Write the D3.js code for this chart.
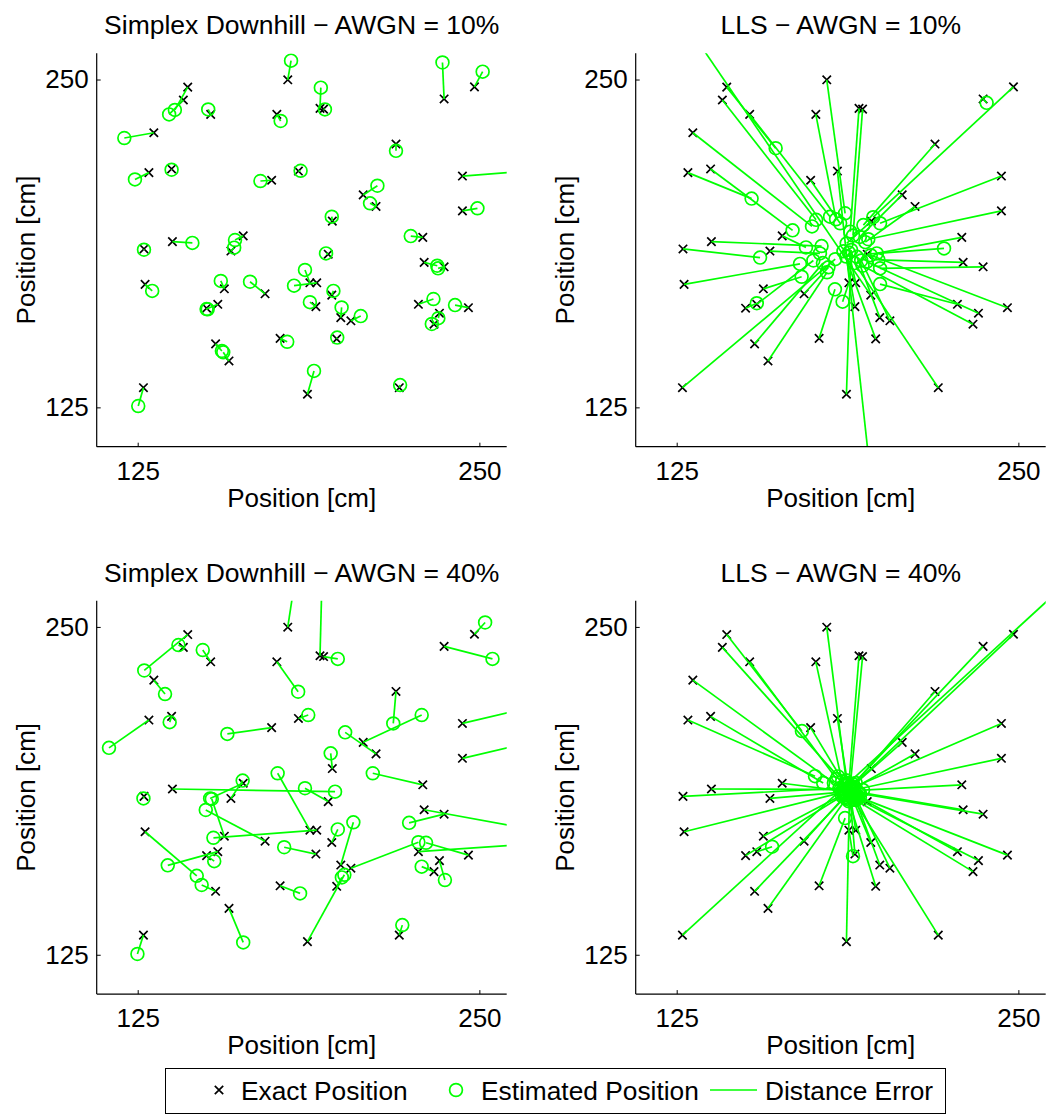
<!DOCTYPE html>
<html>
<head>
<meta charset="utf-8">
<script src="https://cdn.jsdelivr.net/npm/d3@7"></script>
<style>
  html, body { margin: 0; padding: 0; background: #fff; }
  svg text { font-family: "Liberation Sans", Arial, Helvetica, sans-serif; fill: #000; }
</style>
</head>
<body>
<svg id="chart" width="1046" height="1117"></svg>
<script>
// Exact node positions [cm] (shared by every panel)
const exactX = [179.9,143.3,141.7,151.7,175.9,130.9,129.1,137.4,174.0,183.8,
                127.3,137.7,163.6,159.1,191.7,193.0,237.1,248.2,219.5,243.8,
                207.5,212.2,243.8,196.2,229.3,127.7,156.7,171.6,154.3,150.2,
                177.1,153.5,158.4,127.1,194.7,188.0,190.5,196.0,190.2,199.3,
                203.0,197.8,187.1,229.8,237.1,227.7,246.0,235.4,233.4,220.7];
const exactY = [249.9,247.1,242.2,236.7,236.7,229.7,214.5,215.9,211.6,215.1,
                185.4,188.2,190.4,184.6,239.0,238.7,242.6,247.2,225.4,213.2,
                206.0,201.6,199.9,196.0,189.8,171.9,170.2,168.3,164.3,162.8,
                151.3,149.2,142.7,132.5,183.4,172.5,172.5,167.8,163.4,159.2,
                158.0,151.1,130.0,180.3,178.6,164.3,163.0,160.9,156.7,132.5];

// Simplex Downhill estimates, AWGN = 10%
const sd10X = [181.1,138.6,136.5,150.8,177.3,120.1,124.0,137.4,169.9,184.6,
               127.3,145.0,160.6,160.3,192.0,193.5,236.5,251.2,219.5,272.2,
               212.7,210.0,249.3,196.0,224.9,130.3,155.4,166.1,150.2,150.6,
               179.7,155.8,156.3,125.2,193.9,186.2,182.2,196.6,188.0,199.6,
               206.6,198.0,189.5,234.6,234.9,233.2,241.1,235.0,232.6,221.0];
const sd10Y = [257.2,238.4,236.7,238.6,234.2,227.7,211.9,215.6,211.3,215.2,
               185.1,187.7,188.8,185.9,246.9,238.6,256.5,253.0,222.8,215.4,
               209.5,202.8,200.9,197.7,190.3,169.4,173.2,172.9,162.5,162.4,
               150.0,146.5,146.0,125.5,183.7,177.4,171.4,169.4,165.1,163.1,
               159.8,151.6,138.9,179.0,178.0,166.3,164.0,159.0,156.8,133.5];

// Simplex Downhill estimates, AWGN = 40%
const sd40X = [182.8,127.4,139.9,148.8,183.7,135.0,114.5,136.7,157.8,187.4,
               127.1,197.2,151.5,163.4,192.5,198.2,254.8,252.1,218.5,279.5,
               228.9,200.9,279.5,195.6,211.0,146.6,152.1,149.9,136.0,153.0,
               184.4,148.4,163.6,124.9,186.2,176.2,152.7,198.2,178.6,203.9,
               227.7,199.7,200.6,279.5,224.3,279.5,230.5,237.4,228.9,221.8];
const sd40Y = [269.8,233.4,243.1,241.2,225.3,224.4,203.9,213.7,209.2,216.4,
               184.6,187.2,184.6,191.4,271.7,237.8,237.8,251.7,213.2,222.1,
               216.4,209.8,208.6,201.8,194.2,155.1,184.4,180.2,159.1,160.7,
               148.4,151.6,129.7,125.3,188.5,194.2,169.6,172.8,166.0,175.5,
               167.9,154.5,155.5,170.8,175.3,168.0,167.7,153.5,158.6,136.3];

// Linear least squares estimates, AWGN = 10%
const lls10X = [186.6,161.2,176.0,181.1,183.3,174.5,152.4,167.4,184.8,195.8,
                155.5,178.0,172.3,177.4,188.5,189.5,238.4,196.9,193.3,199.4,
                192.0,194.0,195.1,187.2,198.2,170.1,170.7,180.5,175.0,154.3,
                182.9,178.5,180.0,183.0,222.8,185.7,188.0,127.4,187.0,190.9,
                192.5,186.0,188.8,198.8,199.4,199.4,196.0,194.5,193.0,190.0];
const lls10Y = [199.0,223.8,196.5,197.7,196.7,194.0,204.6,192.5,195.2,100.0,
                182.1,186.5,186.0,183.7,192.0,190.5,241.1,197.5,194.5,195.2,
                190.0,188.0,189.1,187.5,183.7,179.7,174.8,178.4,181.0,164.7,
                170.0,180.0,176.5,181.5,185.6,165.3,184.0,272.7,182.5,182.4,
                181.0,184.5,185.0,181.2,178.0,172.0,183.0,180.5,179.0,180.0];

// Linear least squares estimates, AWGN = 40%
const lls40X = [187.0,170.8,184.0,183.5,185.5,182.5,175.6,178.6,186.5,187.5,
                184.5,185.0,185.5,185.5,188.0,188.5,189.5,190.5,189.0,190.0,
                188.5,189.0,190.5,188.0,193.2,186.0,186.5,186.8,159.9,185.5,
                186.6,186.5,187.0,279.9,189.5,189.5,188.5,189.0,188.5,190.0,
                190.5,188.0,188.2,191.5,192.0,191.0,192.0,191.0,190.5,189.5];
const lls40Y = [191.5,210.3,193.0,192.0,191.0,190.5,193.1,190.5,190.0,190.5,
                188.5,188.0,187.5,187.0,190.0,189.5,190.0,190.5,189.0,189.0,
                188.5,188.0,188.0,188.5,187.8,187.0,186.5,185.8,166.2,185.5,
                177.1,185.0,184.5,278.4,186.5,162.6,186.0,185.5,184.0,185.5,
                185.0,183.5,185.5,187.0,186.5,185.5,185.0,184.5,184.0,184.5];

const panelTitles = ["Simplex Downhill \u2212 AWGN = 10%", "LLS \u2212 AWGN = 10%",
                     "Simplex Downhill \u2212 AWGN = 40%", "LLS \u2212 AWGN = 40%"];
const tickValues = [125, 250];
const axisDomain = [110, 260];
const axisLabel = "Position [cm]";
const legendLabels = ["Exact Position", "Estimated Position", "Distance Error"];

const GREEN = "#00ff00";
const MARK_W = 1.7;
const svg = d3.select("#chart");

const panels = [
  { title: panelTitles[0], estX: sd10X,  estY: sd10Y,  x0: 96.7,  y0: 53.3 },
  { title: panelTitles[1], estX: lls10X, estY: lls10Y, x0: 635.7, y0: 53.3 },
  { title: panelTitles[2], estX: sd40X,  estY: sd40Y,  x0: 96.7,  y0: 600.7 },
  { title: panelTitles[3], estX: lls40X, estY: lls40Y, x0: 635.7, y0: 600.7 }
];
const W = 410, H = 393.4;

function crossPath(s) {
  return `M${-s},${-s}L${s},${s}M${-s},${s}L${s},${-s}`;
}

panels.forEach((p, i) => {
  const x = d3.scaleLinear().domain(axisDomain).range([0, W]);
  const y = d3.scaleLinear().domain(axisDomain).range([H, 0]);
  const g = svg.append("g").attr("transform", `translate(${p.x0},${p.y0})`);

  const clipId = "clip" + i;
  g.append("clipPath").attr("id", clipId)
    .append("rect").attr("x", 0).attr("y", 0).attr("width", W).attr("height", H);

  const plot = g.append("g").attr("clip-path", `url(#${clipId})`);

  // exact positions
  plot.append("g").selectAll("path").data(exactX).join("path")
    .attr("transform", (d, k) => `translate(${x(exactX[k])},${y(exactY[k])})`)
    .attr("d", crossPath(4.2))
    .attr("stroke", "#000").attr("stroke-width", MARK_W).attr("fill", "none");

  // estimated positions
  plot.append("g").selectAll("circle").data(p.estX).join("circle")
    .attr("cx", (d, k) => x(p.estX[k])).attr("cy", (d, k) => y(p.estY[k]))
    .attr("r", 6.4)
    .attr("stroke", GREEN).attr("stroke-width", MARK_W).attr("fill", "none");

  // distance error segments
  plot.append("g").selectAll("line").data(exactX).join("line")
    .attr("x1", (d, k) => x(exactX[k])).attr("y1", (d, k) => y(exactY[k]))
    .attr("x2", (d, k) => x(p.estX[k])).attr("y2", (d, k) => y(p.estY[k]))
    .attr("stroke", GREEN).attr("stroke-width", MARK_W);

  // axes: left and bottom only, ticks pointing inward
  const xAxis = d3.axisBottom(x).tickValues(tickValues).tickSize(-4).tickPadding(10)
    .tickFormat(d3.format("d"));
  const yAxis = d3.axisLeft(y).tickValues(tickValues).tickSize(-4).tickPadding(8)
    .tickFormat(d3.format("d"));

  const gx = g.append("g").attr("transform", `translate(0,${H})`).call(xAxis);
  const gy = g.append("g").call(yAxis);
  [gx, gy].forEach(a => {
    a.select(".domain").attr("stroke", "#000").attr("stroke-width", 1.2)
      .attr("d", a === gx ? `M0,0H${W}` : `M0,0V${H}`);
    a.selectAll(".tick line").attr("stroke", "#000").attr("stroke-width", 1);
    a.selectAll(".tick text").attr("font-size", 26).attr("fill", "#000")
      .attr("font-family", "'Liberation Sans', Arial, sans-serif");
  });
  gx.selectAll(".tick text").attr("dy", "0.9em");

  // title and axis labels
  g.append("text").attr("x", W / 2).attr("y", -19)
    .attr("text-anchor", "middle").attr("font-size", 26.5).text(p.title);
  g.append("text").attr("x", W / 2).attr("y", H + 60)
    .attr("text-anchor", "middle").attr("font-size", 26).text(axisLabel);
  g.append("text")
    .attr("transform", `translate(${-62},${H / 2}) rotate(-90)`)
    .attr("text-anchor", "middle").attr("font-size", 26).text(axisLabel);
});

// legend
const lg = svg.append("g");
lg.append("rect").attr("x", 165.5).attr("y", 1068.5).attr("width", 780).attr("height", 45)
  .attr("fill", "#fff").attr("stroke", "#000").attr("stroke-width", 1);
lg.append("path").attr("transform", "translate(219,1090)").attr("d", crossPath(4.2))
  .attr("stroke", "#000").attr("stroke-width", MARK_W).attr("fill", "none");
lg.append("text").attr("x", 241).attr("y", 1099.5).attr("font-size", 26.3).text(legendLabels[0]);
lg.append("circle").attr("cx", 456).attr("cy", 1090).attr("r", 6.4)
  .attr("stroke", GREEN).attr("stroke-width", MARK_W).attr("fill", "none");
lg.append("text").attr("x", 481).attr("y", 1099.5).attr("font-size", 26.3).text(legendLabels[1]);
lg.append("line").attr("x1", 710).attr("x2", 757).attr("y1", 1090).attr("y2", 1090)
  .attr("stroke", GREEN).attr("stroke-width", MARK_W);
lg.append("text").attr("x", 765).attr("y", 1099.5).attr("font-size", 26.3).text(legendLabels[2]);
</script>
</body>
</html>
